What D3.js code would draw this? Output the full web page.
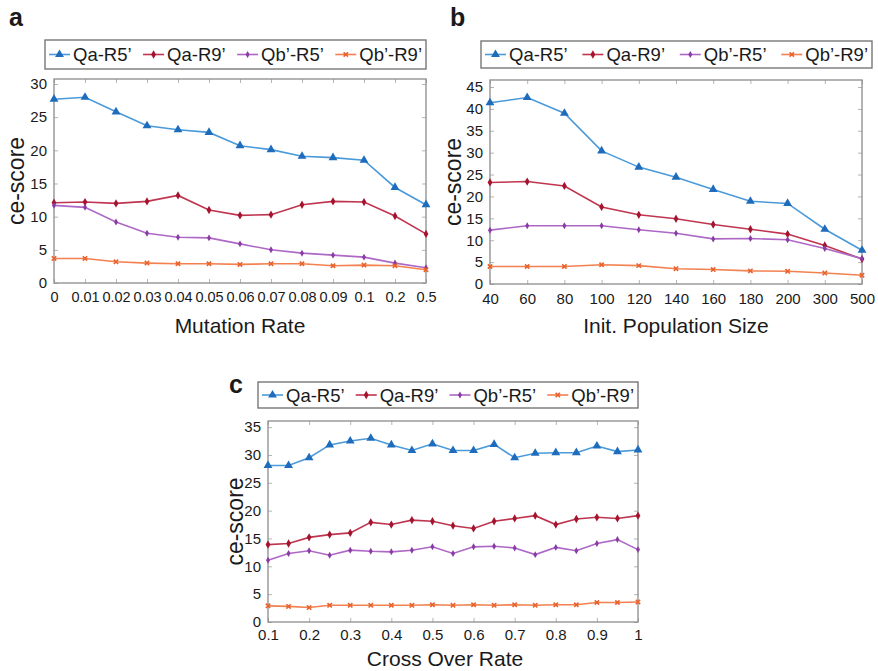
<!DOCTYPE html>
<html lang="en">
<head>
<meta charset="UTF-8">
<title>ce-score panels</title>
<script src="https://d3js.org/d3.v7.min.js"></script>
<style>
  body { margin: 0; background: #fff; }
  text { font-family: "Liberation Sans", Arial, sans-serif; fill: #1a1a1a; }
</style>
</head>
<body>
<div id="chart"></div>
<script>
// series names (legend order)
const seriesNames = ["Qa-R5’", "Qa-R9’", "Qb’-R5’", "Qb’-R9’"];

// panel a - mutation rate
const mutationRates = ["0", "0.01", "0.02", "0.03", "0.04", "0.05", "0.06", "0.07", "0.08", "0.09", "0.1", "0.2", "0.5"];
const mutQaR5 = [27.7, 28.0, 25.8, 23.7, 23.1, 22.7, 20.7, 20.1, 19.1, 18.9, 18.5, 14.4, 11.8];
const mutQaR9 = [12.1, 12.2, 12.0, 12.3, 13.2, 11.0, 10.2, 10.3, 11.8, 12.3, 12.2, 10.1, 7.4];
const mutQbR5 = [11.7, 11.4, 9.2, 7.5, 6.9, 6.8, 5.9, 5.0, 4.5, 4.2, 3.9, 3.0, 2.3];
const mutQbR9 = [3.7, 3.7, 3.2, 3.0, 2.9, 2.9, 2.8, 2.9, 2.9, 2.6, 2.7, 2.6, 2.0];

// panel b - initial population size
const popSizes = ["40", "60", "80", "100", "120", "140", "160", "180", "200", "300", "500"];
const popQaR5 = [41.4, 42.6, 39.0, 30.4, 26.7, 24.4, 21.6, 18.9, 18.4, 12.5, 7.7];
const popQaR9 = [23.2, 23.4, 22.4, 17.6, 15.8, 14.9, 13.6, 12.5, 11.4, 8.8, 5.7];
const popQbR5 = [12.3, 13.3, 13.3, 13.3, 12.4, 11.6, 10.3, 10.4, 10.1, 8.1, 5.8];
const popQbR9 = [4.0, 4.0, 4.0, 4.4, 4.2, 3.5, 3.3, 3.0, 2.9, 2.5, 2.0];

// panel c - cross over rate
const crossRates = [0.1, 0.15, 0.2, 0.25, 0.3, 0.35, 0.4, 0.45, 0.5, 0.55, 0.6, 0.65, 0.7, 0.75, 0.8, 0.85, 0.9, 0.95, 1.0];
const crossTicks = [0.1, 0.2, 0.3, 0.4, 0.5, 0.6, 0.7, 0.8, 0.9, 1.0];
const crossQaR5 = [28.1, 28.1, 29.5, 31.8, 32.5, 33.0, 31.8, 30.8, 32.0, 30.8, 30.8, 31.9, 29.5, 30.3, 30.4, 30.4, 31.6, 30.6, 30.9];
const crossQaR9 = [13.9, 14.1, 15.2, 15.7, 16.0, 17.9, 17.5, 18.3, 18.1, 17.3, 16.8, 18.1, 18.6, 19.1, 17.5, 18.5, 18.8, 18.6, 19.1];
const crossQbR5 = [11.1, 12.3, 12.8, 12.0, 12.9, 12.7, 12.6, 12.9, 13.5, 12.3, 13.5, 13.6, 13.3, 12.1, 13.4, 12.8, 14.1, 14.8, 13.0];
const crossQbR9 = [2.9, 2.8, 2.6, 3.0, 3.0, 3.0, 3.0, 3.0, 3.1, 3.0, 3.1, 3.0, 3.1, 3.0, 3.1, 3.1, 3.5, 3.5, 3.6];

const yTicks30 = d3.range(0, 31, 5);
const yTicks45 = d3.range(0, 46, 5);
const yTicks35 = d3.range(0, 36, 5);

// look of each series
const lineColors = ["#4a9ada", "#bf3550", "#ad68c6", "#f2814f"];
const markColors = ["#1f6cbd", "#a5142f", "#8a3ca5", "#e8622e"];
const markShapes = [d3.symbolTriangle, d3.symbolDiamond, d3.symbolDiamond, d3.symbolTimes];
const markSizes = [34, 20, 14, 14];

const W = 878, H = 671;
const svg = d3.select("#chart").append("svg")
  .attr("width", W).attr("height", H);

function drawMarker(g, i, x, y) {
  const sym = d3.symbol().type(markShapes[i]).size(markSizes[i]);
  const p = g.append("path").attr("d", sym()).attr("transform", `translate(${x},${y})`);
  if (markShapes[i] === d3.symbolTimes) {
    p.attr("fill", "none").attr("stroke", markColors[i]).attr("stroke-width", 1.6);
  } else {
    p.attr("fill", markColors[i]);
  }
}

function drawPanel(p) {
  const g = svg.append("g");
  const y = d3.scaleLinear().domain([0, p.yMax]).range([p.bottom, p.top]);
  const x = p.x;

  // inward ticks, left/right
  g.append("g").attr("transform", `translate(${p.left},0)`)
    .call(d3.axisLeft(y).tickValues(p.yTicks).tickSize(-4).tickSizeOuter(0).tickPadding(7))
    .call(a => a.select(".domain").remove())
    .call(a => a.selectAll("line").attr("stroke", "#b5b5b5"))
    .call(a => a.selectAll("text").attr("font-size", 15).attr("fill", "#1a1a1a")
      .attr("font-family", "Liberation Sans, Arial, sans-serif"));
  g.append("g").attr("transform", `translate(${p.right},0)`)
    .call(d3.axisRight(y).tickValues(p.yTicks).tickSize(-4).tickSizeOuter(0).tickFormat(""))
    .call(a => a.select(".domain").remove())
    .call(a => a.selectAll("line").attr("stroke", "#b5b5b5"));

  // inward ticks, bottom/top
  g.append("g").attr("transform", `translate(0,${p.bottom})`)
    .call(d3.axisBottom(x).tickValues(p.xTicks).tickSize(-4).tickSizeOuter(0).tickPadding(p.xPad)
      .tickFormat(p.xFmt || (d => d)))
    .call(a => a.select(".domain").remove())
    .call(a => a.selectAll("line").attr("stroke", "#b5b5b5"))
    .call(a => a.selectAll("text").attr("font-size", p.xFont).attr("fill", "#1a1a1a")
      .attr("font-family", "Liberation Sans, Arial, sans-serif"));
  g.append("g").attr("transform", `translate(0,${p.top})`)
    .call(d3.axisTop(x).tickValues(p.xTicks).tickSize(-4).tickSizeOuter(0).tickFormat(""))
    .call(a => a.select(".domain").remove())
    .call(a => a.selectAll("line").attr("stroke", "#b5b5b5"));

  // frame
  g.append("rect")
    .attr("x", p.left).attr("y", p.top)
    .attr("width", p.right - p.left).attr("height", p.bottom - p.top)
    .attr("fill", "none").attr("stroke", "#8c8c8c").attr("stroke-width", 1.3);

  // series
  const line = d3.line().x(d => x(d[0])).y(d => y(d[1]));
  p.series.forEach((vals, i) => {
    const pts = vals.map((v, k) => [p.xs[k], v]);
    g.append("path").datum(pts).attr("d", line)
      .attr("fill", "none").attr("stroke", lineColors[i]).attr("stroke-width", 1.6);
    const mg = g.append("g");
    pts.forEach(d => drawMarker(mg, i, x(d[0]), y(d[1])));
  });

  // axis titles
  g.append("text")
    .attr("transform", `translate(${p.yTitleX},${(p.top + p.bottom) / 2}) rotate(-90)`)
    .attr("text-anchor", "middle").attr("font-size", 23).text("ce-score");
  g.append("text")
    .attr("x", p.xTitleX).attr("y", p.xTitleY)
    .attr("text-anchor", "middle").attr("font-size", 21).text(p.xTitle);

  // panel letter
  g.append("text")
    .attr("x", p.letterX).attr("y", p.letterY)
    .attr("font-size", 25).attr("font-weight", "bold").text(p.letter);

  // legend
  const L = p.legend;
  const lg = g.append("g");
  lg.append("rect")
    .attr("x", L.x).attr("y", L.y).attr("width", L.w).attr("height", L.h)
    .attr("fill", "#fff").attr("stroke", "#777").attr("stroke-width", 1.4);
  const segW = 21, gapT = 3;
  const items = seriesNames.map((name, i) => {
    const it = lg.append("g");
    it.append("line").attr("x1", 0).attr("x2", segW).attr("y1", 0).attr("y2", 0)
      .attr("stroke", lineColors[i]).attr("stroke-width", 1.6);
    drawMarker(it, i, segW / 2, 0);
    const t = it.append("text").attr("x", segW + gapT).attr("y", 6.5)
      .attr("font-size", 18.5).text(name);
    return { it, w: segW + gapT + t.node().getComputedTextLength() };
  });
  const total = d3.sum(items, d => d.w);
  const gap = (L.w - 8 - total) / 3;
  let cx = L.x + 4;
  items.forEach(d => {
    d.it.attr("transform", `translate(${cx},${L.y + L.h / 2})`);
    cx += d.w + gap;
  });
}

// panel a
drawPanel({
  left: 54, right: 426, top: 79, bottom: 283, yMax: 30.75, yTicks: yTicks30,
  x: d3.scalePoint().domain(mutationRates).range([54, 426]).padding(0),
  xs: mutationRates, xTicks: mutationRates, xPad: 9, xFont: 14.5,
  series: [mutQaR5, mutQaR9, mutQbR5, mutQbR9],
  yTitleX: 24, xTitle: "Mutation Rate", xTitleX: 240, xTitleY: 333,
  letter: "a", letterX: 9, letterY: 26,
  legend: { x: 45, y: 40, w: 381, h: 29 }
});

// panel b
drawPanel({
  left: 490, right: 862, top: 80, bottom: 284, yMax: 46.6, yTicks: yTicks45,
  x: d3.scalePoint().domain(popSizes).range([490, 862]).padding(0),
  xs: popSizes, xTicks: popSizes, xPad: 9, xFont: 15,
  series: [popQaR5, popQaR9, popQbR5, popQbR9],
  yTitleX: 461, xTitle: "Init. Population Size", xTitleX: 676, xTitleY: 333,
  letter: "b", letterX: 450, letterY: 26,
  legend: { x: 481, y: 41, w: 391, h: 27 }
});

// panel c
drawPanel({
  left: 268, right: 638, top: 421, bottom: 622, yMax: 36.1, yTicks: yTicks35,
  x: d3.scaleLinear().domain([0.1, 1]).range([268, 638]),
  xs: crossRates, xTicks: crossTicks, xPad: 7, xFont: 15, xFmt: d3.format("~g"),
  series: [crossQaR5, crossQaR9, crossQbR5, crossQbR9],
  yTitleX: 243, xTitle: "Cross Over Rate", xTitleX: 445, xTitleY: 666,
  letter: "c", letterX: 229, letterY: 393,
  legend: { x: 258, y: 382, w: 380, h: 26 }
});
</script>
</body>
</html>
